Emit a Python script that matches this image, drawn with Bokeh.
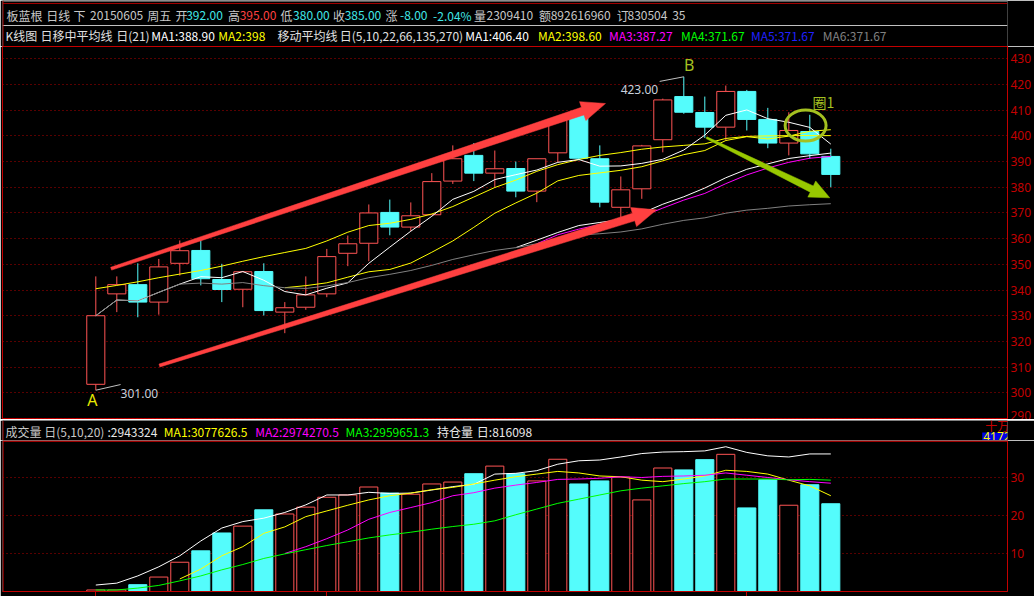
import numpy as np
from bokeh.plotting import figure
from bokeh.models import Range1d, FixedTicker, Span, ColumnDataSource
from bokeh.layouts import column
from bokeh.embed import file_html
from bokeh.resources import INLINE
from bokeh.core.properties import value

# ---------------- daily bars of 板蓝根 (index = trading day) ----------------
day = list(range(36))
open_ = [303.3, 338.5, 342.1, 335.3, 350.4, 355.4, 344.1, 340.3, 347.2, 331.4,
         333.3, 338.5, 354.3, 358.2, 370.2, 364.5, 369.3, 382.4, 392.4, 385.5,
         387.3, 378.5, 393.4, 408.8, 391.1, 372.2, 379.4, 398.5, 415.3, 409.1,
         403.4, 417.3, 406.4, 397.2, 401.7, 392.0]
high = [345.3, 345.3, 350.4, 352.1, 359.3, 359.5, 350.2, 347.4, 350.4, 335.3,
        345.3, 356.0, 361.2, 373.3, 375.2, 374.1, 385.5, 396.3, 397.2, 394.3,
        390.0, 391.1, 406.5, 409.5, 396.3, 384.2, 396.5, 414.5, 423.0, 415.3,
        419.6, 417.9, 410.9, 409.2, 408.2, 395.0]
low = [301.0, 331.4, 329.4, 330.4, 345.6, 341.8, 335.3, 333.3, 330.1, 323.2,
       332.3, 337.2, 349.3, 351.2, 361.3, 362.9, 369.3, 381.3, 382.4, 379.8,
       376.1, 374.2, 389.8, 390.5, 372.2, 368.3, 375.5, 393.6, 408.6, 399.2,
       398.2, 402.1, 395.2, 392.4, 391.1, 380.0]
close = [330.0, 342.1, 335.3, 349.0, 355.3, 344.4, 340.2, 347.1, 332.0, 333.1,
         338.1, 353.0, 358.0, 370.0, 364.5, 368.9, 382.2, 391.1, 385.5, 387.2,
         378.5, 391.1, 406.0, 391.3, 374.2, 379.0, 396.1, 414.0, 409.2, 403.4,
         417.3, 406.4, 397.2, 402.1, 393.0, 385.0]
# volume in units of 十万 (100,000)
volume = [0.4, 0.4, 1.8, 3.8, 7.7, 10.7, 15.4, 17.2, 21.5, 20.4,
          22.2, 24.8, 25.4, 27.5, 25.9, 25.6, 28.3, 28.8, 31.0, 33.0,
          31.0, 29.1, 34.8, 28.3, 29.1, 30.1, 24.1, 32.5, 32.0, 34.7,
          36.1, 22.0, 29.4, 22.7, 28.1, 23.0941]

# price averages (first value belongs to the day given in the *_start name)
ma5 = [330.0, 336.1, 335.8, 339.1, 342.3, 345.2, 344.8, 347.2, 343.8, 339.4,
       338.1, 340.7, 342.8, 350.4, 356.7, 362.9, 368.7, 375.3, 378.4, 383.0,
       384.9, 386.7, 389.7, 390.8, 388.2, 388.3, 389.3, 390.9, 394.5, 400.3,
       408.0, 410.1, 406.7, 405.3, 403.3, 396.8]
ma5_start = 0
ma10 = [340.9, 341.7, 342.8, 345.0, 347.1, 348.0, 350.5, 354.7, 359.1, 364.4,
        369.9, 373.9, 377.7, 382.5, 384.6, 385.6, 386.6, 388.0, 390.3, 392.7,
        394.3, 398.2, 399.7, 398.8, 399.9, 401.8, 402.4]
ma10_start = 9
ma22 = [358.0, 361.5, 363.7, 365.5, 366.9, 368.7, 371.9, 375.0, 377.6, 381.4,
        384.8, 387.5, 389.7, 391.3, 392.0]
ma22_start = 21
ma_long = [330.0, 336.1, 335.8, 339.1, 342.3, 342.7, 342.3, 342.9, 341.7, 340.9,
           340.6, 341.6, 342.9, 344.8, 346.1, 347.6, 349.6, 351.9, 353.7, 355.4,
           356.5, 358.0, 360.1, 361.4, 361.9, 362.6, 363.8, 365.6, 367.1, 368.1,
           369.9, 371.1, 371.8, 372.7, 373.2, 373.6]
ma_long_start = 0
# 日移中平均线 (21)
mid1 = [356.5, 359.4, 362.4, 365.1, 366.3, 367.4, 369.9, 373.4, 376.3, 379.7,
        383.7, 387.0, 389.1, 391.2, 392.3, 393.3]
mid1_start = 20
mid2 = [340.5, 341.8, 343.2, 344.8, 346.2, 347.6, 349.3, 351.2, 353.0, 354.6,
        356.2, 359.1, 362.5, 365.1, 366.0, 367.5, 369.6, 372.5, 376.2, 379.9,
        382.8, 386.2, 388.8, 390.8, 392.4, 393.5, 394.8, 395.7, 396.3, 396.9,
        399.0, 399.8, 400.0, 400.1, 400.1, 400.1]
mid2_start = 0

# volume averages
vma5 = [3.3, 5.9, 9.4, 11.8, 15.3, 17.0, 19.7, 21.2, 22.7, 24.1,
        25.2, 25.9, 26.8, 27.4, 28.3, 29.3, 30.2, 30.9, 31.6, 31.2,
        30.4, 30.2, 29.3, 28.9, 29.6, 30.4, 31.9, 31.6, 30.9, 29.3,
        27.8, 25.2]
vma5_start = 4
vma10 = [10.0, 11.8, 13.9, 16.2, 19.0, 20.8, 22.1, 23.4, 25.2, 26.0,
         27.2, 28.0, 28.7, 29.5, 29.6, 29.8, 30.2, 30.0, 30.3, 30.4,
         30.6, 31.2, 30.6, 30.0, 29.4, 28.9, 28.5]
vma10_start = 9
vma20 = [0.4, 0.4, 0.9, 1.6, 2.8, 4.1, 5.7, 7.1, 8.7, 9.9,
         11.0, 12.1, 13.1, 14.1, 14.9, 15.6, 16.4, 17.1, 17.7, 18.6,
         20.2, 21.7, 23.2, 24.3, 25.4, 26.5, 27.2, 27.8, 28.4, 28.9,
         29.6, 29.6, 29.6, 29.4, 29.5, 29.3]
vma20_start = 0
hold = [1.7, 2.2, 4.1, 6.5, 9.4, 13.3, 16.7, 18.4, 19.3, 20.8,
        22.8, 25.4, 25.4, 26.1, 25.8, 25.9, 26.7, 27.6, 28.2, 30.9,
        31.1, 31.8, 33.5, 34.4, 34.6, 35.4, 36.3, 36.7, 36.8, 37.0,
        38.1, 36.6, 35.7, 35.4, 36.2, 36.2]
hold_start = 0

month_ticks = [0, 11, 31]
price_ticks = list(range(290, 431, 10))
vol_ticks = [10, 20, 30]

# ---------------- styling / layout ----------------
W = 1034
BAR_PX = 21.0                 # pixels per trading day
FRAME_L, FRAME_R = 2, 1007
X0 = -(95.3 - FRAME_L) / BAR_PX
X1 = X0 + (FRAME_R - FRAME_L) / BAR_PX
P_H = 373
P_TOP, P_BOT = 434.79, 289.6
VH_H = 20                     # volume caption strip
V_H = 156
V_FRAME = 151
V_PX = 3.8
V_TOP = V_FRAME / V_PX

BG = "#000000"
RED_AX = "#c40000"
GRID = "#b00000"
UP = "#ff5454"
DOWN = "#54fcfc"
LBL = "#c8c8c8"
CYAN_T = "#40e8e8"
OLIVE = "#a4c020"
CJK = "Noto Sans CJK SC"


def pad(vals, start):
    return [np.nan] * start + list(vals)


def arrow_poly(tail, tip, w0, w1, head_w, head_len, sx, sy):
    """Tapered arrow outline; widths are in screen pixels."""
    ax, ay = tail[0] * sx, tail[1] * sy
    bx, by = tip[0] * sx, tip[1] * sy
    L = np.hypot(bx - ax, by - ay)
    ux, uy = (bx - ax) / L, (by - ay) / L
    nx, ny = -uy, ux
    cx, cy = bx - ux * head_len, by - uy * head_len
    pts = [(ax + nx * w0 / 2, ay + ny * w0 / 2),
           (cx + nx * w1 / 2, cy + ny * w1 / 2),
           (cx + nx * head_w / 2, cy + ny * head_w / 2),
           (bx, by),
           (cx - nx * head_w / 2, cy - ny * head_w / 2),
           (cx - nx * w1 / 2, cy - ny * w1 / 2),
           (ax - nx * w0 / 2, ay - ny * w0 / 2)]
    return [q[0] / sx for q in pts], [q[1] / sy for q in pts]


def strip(height, color=BG):
    """Full-width strip whose coordinates are plain pixels (y downwards)."""
    f = figure(width=W, height=height, output_backend="svg", toolbar_location=None,
               min_border=0, x_axis_location=None, y_axis_location=None,
               background_fill_color=color, border_fill_color=color, outline_line_color=None,
               x_range=Range1d(0, W), y_range=Range1d(height, 0))
    f.grid.visible = False
    return f


def put_text(fig, items, y, size="12px"):
    src = ColumnDataSource(dict(x=[t[1] for t in items], y=[y] * len(items),
                                text=[t[0] for t in items], color=[t[2] for t in items]))
    fig.text(x="x", y="y", text="text", text_color="color", source=src,
             text_font=value(CJK), text_font_size=size, text_baseline="middle", text_align="left")


o = np.array(open_); c = np.array(close); h = np.array(high); l = np.array(low)
up = c >= o
body_top = np.maximum(o, c)
body_bot = np.minimum(o, c)
edge = [UP if u else DOWN for u in up]
fill = [BG if u else DOWN for u in up]

# ---------------- header ----------------
hdr = strip(46)
chg = close[-1] - close[-2]
pct = chg / close[-2] * 100
row1 = [("板蓝根", 4, LBL), ("日线", 45, LBL), ("下", 73, LBL), ("20150605", 90, LBL),
        ("周五", 149, LBL), ("开", 178, LBL), (f"{open_[-1]:.2f}", 189, CYAN_T),
        ("高", 232, LBL), (f"{high[-1]:.2f}", 244, "#ff4040"),
        ("低", 286, LBL), (f"{low[-1]:.2f}", 299, CYAN_T),
        ("收", 340, LBL), (f"{close[-1]:.2f}", 352, CYAN_T),
        ("涨", 394, LBL), (f"{chg:.2f}", 409, CYAN_T), (f"{pct:.2f}%", 443, CYAN_T),
        ("量", 485, LBL), (f"{round(volume[-1] * 1e5)}", 498, LBL),
        ("额", 552, LBL), ("892616960", 564, LBL),
        ("订", 632, LBL), ("830504", 643, LBL), ("35", 689, LBL)]
row2 = [("K线图", 3, "#e0e0e0"), ("日移中平均线", 39, "#e0e0e0"), ("日(21)", 117, "#e0e0e0"),
        ("MA1:388.90", 153, "#ffffff"), ("MA2:398", 222, "#ffff00"),
        ("移动平均线", 283, "#e0e0e0"), ("日(5,10,22,66,135,270)", 347, "#e0e0e0"),
        ("MA1:406.40", 476, "#ffffff"), ("MA2:398.60", 551, "#ffff00"),
        ("MA3:387.27", 624, "#ff00ff"), ("MA4:371.67", 698, "#00ff00"),
        ("MA5:371.67", 770, "#2020ff"), ("MA6:371.67", 844, "#808080")]
put_text(hdr, row1, 15)
put_text(hdr, row2, 35)
hdr.add_layout(Span(location=0.5, dimension="width", line_color="#b8b8b8", line_width=1))
hdr.add_layout(Span(location=3, dimension="width", line_color="#a00000", line_width=1))
hdr.add_layout(Span(location=25, dimension="width", line_color="#c0c0c0", line_width=1))
hdr.add_layout(Span(location=0.5, dimension="height", line_color=RED_AX, line_width=1))

# ---------------- price panel ----------------
p = figure(width=W, height=P_H, x_range=Range1d(X0, X1), y_range=Range1d(P_BOT, P_TOP),
           output_backend="svg", toolbar_location=None, min_border=0,
           min_border_left=FRAME_L, min_border_right=W - FRAME_R,
           x_axis_location=None, y_axis_location="right",
           background_fill_color=BG, border_fill_color=BG,
           outline_line_color=RED_AX)
p.yaxis.ticker = FixedTicker(ticks=price_ticks)
p.yaxis.axis_line_color = RED_AX
p.yaxis.major_tick_line_color = None
p.yaxis.minor_tick_line_color = None
p.yaxis.major_tick_out = 0
p.yaxis.major_tick_in = 0
p.yaxis.major_label_text_color = RED_AX
p.yaxis.major_label_text_font = "Noto Sans"
p.yaxis.major_label_text_font_size = "12px"
p.yaxis.major_label_standoff = 3
p.ygrid.ticker = FixedTicker(ticks=price_ticks)
p.ygrid.grid_line_color = GRID
p.ygrid.grid_line_dash = "1 3"
p.xgrid.visible = False

# candles: wicks then bodies
p.segment(x0=day, y0=h, x1=day, y1=body_top, line_color=edge, line_width=1)
p.segment(x0=day, y0=body_bot, x1=day, y1=l, line_color=edge, line_width=1)
p.vbar(x=day, width=0.86, top=body_top, bottom=body_bot,
       fill_color=fill, line_color=edge, line_width=1)

# moving averages
p.line(day, pad(mid2, mid2_start), line_color="#ffff00", line_width=1)
p.line(day, pad(ma10, ma10_start), line_color="#ffff00", line_width=1)
p.line(day, pad(ma5, ma5_start), line_color="#ffffff", line_width=1)
p.line(day, pad(ma22, ma22_start), line_color="#ff00ff", line_width=1)
p.line(day, pad(mid1, mid1_start), line_color="#ffffff", line_width=1)
p.line(day, pad(ma_long, ma_long_start), line_color="#808080", line_width=1)

# low / high markers
p.segment(x0=[0, 28], y0=[low[0], high[28]], x1=[1.18, 26.85], y1=[303.2, 421.2],
          line_color="#c0c0c0", line_width=1)
p.text(x=[1.18], y=[299.9], text=[f"{low[0]:.2f}"], text_color="#c8d0dc",
       text_font=value("Noto Sans"), text_font_size="12px", text_baseline="middle", text_align="left")
p.text(x=[26.78], y=[418.0], text=[f"{high[28]:.2f}"], text_color="#c8d0dc",
       text_font=value("Noto Sans"), text_font_size="12px", text_baseline="middle", text_align="right")
p.text(x=[-0.16], y=[297.0], text=["A"], text_color="#e8e800",
       text_font=value("Noto Sans"), text_font_size="16px", text_baseline="middle", text_align="center")
p.text(x=[28.26], y=[427.4], text=["B"], text_color=OLIVE,
       text_font=value("Noto Sans"), text_font_size="16px", text_baseline="middle", text_align="center")
p.text(x=[34.13], y=[413.2], text=["圈1"], text_color=OLIVE,
       text_font=value(CJK), text_font_size="14px", text_baseline="middle", text_align="left")

# trend arrows and the marked circle
SX = BAR_PX
SY = P_H / (P_TOP - P_BOT)
for tail, tip, col, w0, w1, hw, hl in [
        ((0.73, 348.3), (24.27, 412.6), "#ff4040", 3, 8, 20, 24),
        ((3.03, 310.6), (26.70, 371.2), "#ff4040", 3, 8, 20, 24),
        ((29.08, 399.3), (34.95, 375.9), "#98c800", 2, 7, 18, 20)]:
    xs, ys = arrow_poly(tail, tip, w0, w1, hw, hl, SX, SY)
    p.patch(xs, ys, fill_color=col, line_color=col, line_width=0.5)
p.ellipse(x=[33.8], y=[404.0], width=[1.95], height=[12.07],
          fill_color=None, line_color=OLIVE, line_width=3)

# ---------------- separator ----------------
sep = strip(1, "#c0c0c0")

# ---------------- volume caption strip ----------------
vh = strip(VH_H)
vrow = [("成交量", 3, LBL), ("日(5,10,20)", 43, LBL), (":2943324", 108, "#e8e8e8"),
        ("MA1:3077626.5", 166, "#ffff00"), ("MA2:2974270.5", 260, "#ff00ff"),
        ("MA3:2959651.3", 353, "#00ff00"), ("持仓量", 447, "#e8e8e8"), ("日:816098", 488, "#e8e8e8")]
put_text(vh, vrow, 11)
vh.segment(x0=[0.5], y0=[0], x1=[0.5], y1=[VH_H], line_color=RED_AX, line_width=1)
vh.text(x=[1011], y=[5], text=["十万"], text_color=RED_AX, text_font=value(CJK),
        text_font_size="12px", text_baseline="middle", text_align="left")
vh.quad(left=[FRAME_R + 1], right=[W], top=[12], bottom=[VH_H], fill_color="#0000e8", line_color=None)
vh.text(x=[FRAME_R + 2], y=[15.5], text=["4172"], text_color="#ffff00", text_font=value("Noto Sans"),
        text_font_size="12px", text_baseline="middle", text_align="left")

# ---------------- volume panel ----------------
v = figure(width=W, height=V_H, x_range=p.x_range, y_range=Range1d(0, V_TOP),
           output_backend="svg", toolbar_location=None, min_border=0,
           min_border_left=FRAME_L, min_border_right=W - FRAME_R,
           min_border_bottom=V_H - V_FRAME,
           y_axis_location="right", x_axis_location="below",
           background_fill_color=BG, border_fill_color=BG, outline_line_color=None)
v.yaxis.ticker = FixedTicker(ticks=vol_ticks)
v.yaxis.axis_line_color = RED_AX
v.yaxis.major_tick_line_color = None
v.yaxis.minor_tick_line_color = None
v.yaxis.major_tick_out = 0
v.yaxis.major_tick_in = 0
v.yaxis.major_label_text_color = RED_AX
v.yaxis.major_label_text_font = "Noto Sans"
v.yaxis.major_label_text_font_size = "12px"
v.yaxis.major_label_standoff = 3
v.xaxis.ticker = FixedTicker(ticks=month_ticks)
v.xaxis.axis_line_color = RED_AX
v.xaxis.major_tick_line_color = RED_AX
v.xaxis.minor_tick_line_color = None
v.xaxis.major_tick_out = 5
v.xaxis.major_tick_in = 0
v.xaxis.major_label_text_font_size = "0px"
v.xaxis.major_label_standoff = 0
v.ygrid.ticker = FixedTicker(ticks=vol_ticks)
v.ygrid.grid_line_color = GRID
v.ygrid.grid_line_dash = "1 3"
v.xgrid.visible = False
v.add_layout(Span(location=X0 + 0.6 / BAR_PX, dimension="height", line_color=RED_AX, line_width=1))
v.add_layout(Span(location=V_TOP - 0.6 / V_PX, dimension="width", line_color="#d00000", line_width=1.2))

v.vbar(x=day, width=0.86, top=volume, bottom=0, fill_color=fill, line_color=edge, line_width=1)
v.line(day, pad(hold, hold_start), line_color="#ffffff", line_width=1)
v.line(day, pad(vma5, vma5_start), line_color="#ffff00", line_width=1)
v.line(day, pad(vma10, vma10_start), line_color="#ff00ff", line_width=1)
v.line(day, pad(vma20, vma20_start), line_color="#00ff00", line_width=1)

layout = column(hdr, p, sep, vh, v, spacing=0)
open("out.html", "w").write(file_html(layout, INLINE))
